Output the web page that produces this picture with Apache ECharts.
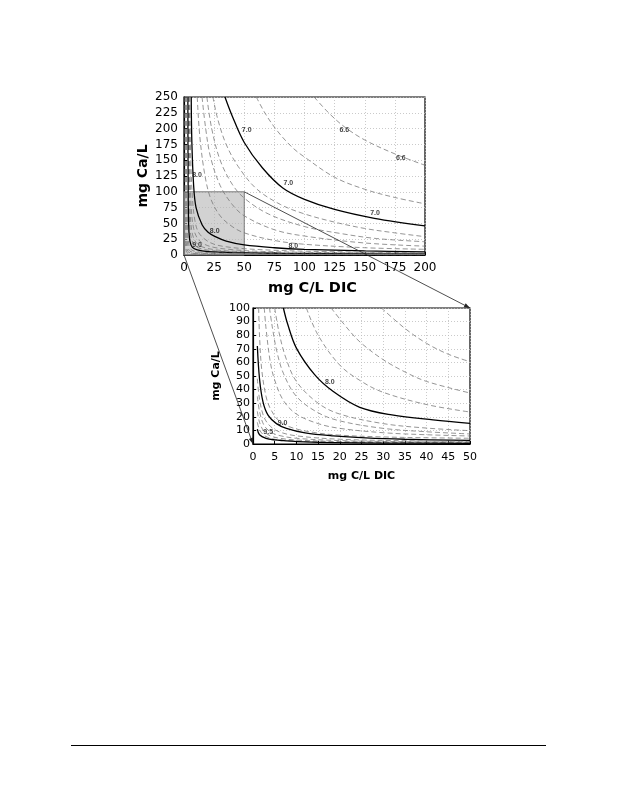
<!DOCTYPE html>
<html>
<head>
<meta charset="utf-8">
<script src="https://cdn.jsdelivr.net/npm/echarts@6/dist/echarts.min.js"></script>
<style>
html,body{margin:0;padding:0;background:#fff;}
#chart{width:618px;height:800px;}
#rule{position:absolute;left:71px;top:745px;width:475px;height:0;border-top:1.3px solid #000;}
</style>
</head>
<body>
<div id="chart"></div>
<div id="rule"></div>
<script>
// ---------- Data ----------
// Upper panel (DIC 0-200 mg C/L, Ca 0-250 mg/L): pH iso-lines as [DIC, Ca]
const top66 = [[108,250],[120,225],[133,203],[150,182],[175,160],[200,142]];
const top68 = [[60,250],[68,222],[78,195],[90,170],[100,155],[125,123],[150,104],[175,91],[200,81]];
const top70 = [[34,250],[40,220],[50,178],[65,138],[82,106],[100,88],[125,72],[158,58],[200,46]];
const top72 = [[24,250],[28,215],[35,175],[45,140],[60,105],[80,80],[100,65],[125,52],[150,42],[175,35],[200,29]];
const top74 = [[19,250],[23,200],[30,150],[40,112],[50,90],[70,65],[100,45],[130,34],[160,26],[200,21]];
const top76 = [[15,250],[18,200],[22,155],[30,110],[40,80],[50,62],[75,40],[100,30],[150,19],[200,14]];
const top78 = [[11,250],[13,190],[17,130],[22,90],[30,62],[40,45],[50,35],[75,23],[100,17],[150,11.5],[200,9]];
const top80 = [[6,250],[6.5,180],[8,110],[10,75],[15,48],[20,36],[26,29],[35,22],[50,16],[75,11.5],[100,9],[150,6.5],[200,5]];
const top82 = [[5,250],[5.5,160],[7,90],[9,55],[12,36],[18,24],[25,17],[35,13],[50,10],[75,7.5],[100,6],[150,4.5],[200,3.5]];
const top84 = [[4.4,250],[4.8,150],[6,75],[8,42],[11,27],[16,18],[25,12],[40,8.5],[60,6],[100,4.3],[150,3.3],[200,2.7]];
const top86 = [[4,250],[4.3,140],[5.2,65],[7,33],[10,20],[15,13],[25,8.5],[40,6],[70,4.2],[100,3.3],[200,2.1]];
const top88 = [[3.6,250],[3.9,130],[4.6,55],[6,27],[9,15],[15,9.5],[25,6.5],[50,4.2],[100,2.7],[200,1.7]];
const top90 = [[3.2,250],[3.4,120],[3.9,45],[5,21],[7,12],[11,8],[20,5.5],[40,3.8],[80,2.4],[140,1.7],[200,1.3]];
const top92 = [[2.6,250],[2.8,100],[3.2,35],[4.2,15],[6,8.5],[10,5.5],[20,3.8],[50,2.3],[100,1.5],[200,1]];
const top94 = [[2,250],[2.2,90],[2.6,28],[3.5,11],[5,6],[10,3.5],[25,2.2],[60,1.4],[120,1],[200,0.7]];
const top96 = [[1.3,250],[1.5,80],[1.9,22],[2.7,8],[4,4.3],[10,2.2],[30,1.3],[100,0.7],[200,0.5]];
const top98 = [[0.7,250],[0.9,70],[1.2,18],[1.9,6],[3,3],[10,1.2],[50,0.6],[200,0.3]];
const topLabels = [[133,198,'6.6'],[180,153,'6.6'],[52,197,'7.0'],[86.6,113.4,'7.0'],[158.5,66,'7.0'],
                   [10.8,126,'8.0'],[25.5,38.5,'8.0'],[90.7,14.7,'8.0'],[10.8,15.8,'9.0']];

// Lower panel (DIC 0-50, Ca 0-100): pH iso-lines as [DIC, Ca]
const low74 = [[29.6,100],[35,85],[40,74],[45,66],[50,60.5]];
const low76 = [[18,100],[22.4,82.6],[25,74],[30,62],[35,53],[40,46],[50,37.5]];
const low78 = [[12.3,100],[15,80],[20,58],[25,46],[30,38],[40,29],[50,23.5]];
const low80 = [[7,100],[8,88],[10,70.5],[14.2,51],[18.5,38.6],[24.6,27],[32,21.4],[41.5,17.7],[50,15.2]];
const low82 = [[5,100],[6,82],[7.5,64],[10,46],[15,30],[20,22],[30,15],[40,11.7],[50,9.8]];
const low84 = [[3.8,100],[4.5,85],[5.5,68],[7,52],[10,35],[15,23],[20,17],[30,11.5],[40,9],[50,7.4]];
const low86 = [[2.6,100],[3,85],[4,60],[5,47],[7,32],[10,22],[15,15],[20,11.5],[30,8.3],[40,6.8],[50,5.9]];
const low88 = [[1.3,100],[1.5,80],[2,55],[3,35],[4,26],[6,17],[9,12],[14,8.5],[20,6.5],[30,5.2],[40,4.6],[50,4.2]];
const low90 = [[1,72],[1.5,48],[2.3,31],[3.5,21],[5.4,15],[7.7,11.5],[12,8.2],[18.5,6],[26,4.5],[35,3.5],[50,2.6]];
const low91 = [[1,48],[1.5,33],[2.5,20],[4,13],[6,9],[10,6],[20,3.5],[35,2.4],[50,1.9]];
const low92 = [[1,35],[1.5,24],[2.5,14],[4,9],[6,6.3],[10,4.2],[20,2.5],[35,1.7],[50,1.4]];
const low93 = [[1,24],[1.5,16],[2.5,9.5],[4,6],[6,4.3],[10,2.9],[20,1.8],[50,1.1]];
const low94 = [[1,16],[1.5,10.5],[2.5,6.5],[4,4.2],[6,3],[10,2],[20,1.2],[50,0.8]];
const low95 = [[1,11],[1.5,6.8],[3,4.2],[5,3],[7,2.5],[12,1.6],[18.5,1],[30,0.7],[50,0.5]];
const lowLabels = [[17.7,45.5,'8.0'],[6.8,15.2,'9.0'],[3.5,8.6,'9.5']];

// zoomed window shown as grey box on upper panel
const zoomBox = [[0,0],[50,100]];

// ---------- Chart ----------
const FONT = 'Liberation Sans, Arial, sans-serif';
const TICKFONT = 'DejaVu Sans, sans-serif';
const chart = echarts.init(document.getElementById('chart'), null, {renderer:'canvas'});

function curve(data, solid, gi){
  return {
    type:'line', data:data, xAxisIndex:gi, yAxisIndex:gi,
    smooth:0.35, showSymbol:false, symbol:'none', silent:true, clip:true, z:3,
    lineStyle: solid ? {color:'#000', width:1.3, type:'solid'}
                     : {color:'#7a7a7a', width:0.8, type:[5,3]}
  };
}
function labels(data, gi){
  return {
    type:'scatter', data:data, xAxisIndex:gi, yAxisIndex:gi, symbolSize:1, z:5, silent:true,
    itemStyle:{color:'rgba(0,0,0,0)'},
    label:{show:true, position:'inside', formatter:p=>p.data[2], fontSize:7, fontWeight:'bold',
           color:'#111', fontFamily:FONT}
  };
}

const topSet = [[top66,0],[top68,0],[top70,1],[top72,0],[top74,0],[top76,0],[top78,0],[top80,1],
                [top82,0],[top84,0],[top86,0],[top88,0],[top90,1],[top92,0],[top94,0],[top96,0],[top98,0]];
const lowSet = [[low74,0],[low76,0],[low78,0],[low80,1],[low82,0],[low84,0],[low86,0],[low88,0],
                [low90,1],[low91,0],[low92,0],[low93,0],[low94,0],[low95,1]];

const series = [];
series.push({
  type:'line', data:[], xAxisIndex:0, yAxisIndex:0, z:1, silent:true,
  markArea:{silent:true, itemStyle:{color:'rgba(180,180,180,0.6)', borderColor:'#7a7a7a', borderWidth:1},
            data:[[{coord:zoomBox[0]},{coord:zoomBox[1]}]]}
});
topSet.forEach(c=>series.push(curve(c[0], c[1], 0)));
lowSet.forEach(c=>series.push(curve(c[0], c[1], 1)));
series.push(labels(topLabels,0));
series.push(labels(lowLabels,1));

function xAx(gi, max, interval, gap){
  return {type:'value', gridIndex:gi, min:0, max:max, interval:interval,
    name:'mg C/L DIC', nameLocation:'middle', nameGap:gap,
    nameTextStyle:{fontFamily:TICKFONT, fontWeight:'bold', fontSize:gi?11:14.5, color:'#000',
                   padding: gi?[0,0,0,0]:[0,0,0,16]},
    axisLine:{lineStyle:{color:'#000', width:1.2}},
    axisTick:{inside:true, length:3, lineStyle:{color:'#000'}},
    axisLabel:{fontFamily:TICKFONT, fontSize:gi?11:12, color:'#000', margin:gi?8:7},
    splitLine:{show:true, lineStyle:{color:'#bdbdbd', type:[1,2], width:0.8}}};
}
function yAx(gi, max, interval, gap){
  return {type:'value', gridIndex:gi, min:0, max:max, interval:interval,
    name:'mg Ca/L', nameLocation:'middle', nameGap:gap, nameRotate:90,
    nameTextStyle:{fontFamily:TICKFONT, fontWeight:'bold', fontSize:gi?11:14, color:'#000'},
    axisLine:{lineStyle:{color:'#000', width:1.2}},
    axisTick:{inside:true, length:3, lineStyle:{color:'#000'}},
    axisLabel:{fontFamily:TICKFONT, fontSize:gi?11:12, color:'#000', margin:gi?3:6},
    splitLine:{show:true, lineStyle:{color:'#bdbdbd', type:[1,2], width:0.8}}};
}

chart.setOption({
  animation:false,
  backgroundColor:'#fff',
  grid:[
    {left:184, top:97, width:241, height:158, show:true, borderColor:'#000', borderWidth:1.2, backgroundColor:'transparent'},
    {left:253, top:308, width:217, height:136, show:true, borderColor:'#000', borderWidth:1.2, backgroundColor:'transparent'}
  ],
  xAxis:[xAx(0,200,25,26), xAx(1,50,5,27)],
  yAxis:[yAx(0,250,25,34), yAx(1,100,10,31)],
  series:series
});

// connector lines from the zoom box to the lower panel
function arrowGraphic(a, b){
  const dx=b[0]-a[0], dy=b[1]-a[1], L=Math.hypot(dx,dy), ux=dx/L, uy=dy/L;
  const s=6, w=2.2;
  const bx=b[0]-ux*s, by=b[1]-uy*s;
  return [
    {type:'line', shape:{x1:a[0],y1:a[1],x2:b[0],y2:b[1]}, style:{stroke:'#222', lineWidth:0.8}, z:10},
    {type:'polygon', shape:{points:[[b[0],b[1]],[bx-uy*w,by+ux*w],[bx+uy*w,by-ux*w]]}, style:{fill:'#222'}, z:10}
  ];
}
const p1 = chart.convertToPixel({xAxisIndex:0,yAxisIndex:0}, zoomBox[0]);
const q1 = chart.convertToPixel({xAxisIndex:1,yAxisIndex:1}, zoomBox[0]);
const p2 = chart.convertToPixel({xAxisIndex:0,yAxisIndex:0}, zoomBox[1]);
const q2 = chart.convertToPixel({xAxisIndex:1,yAxisIndex:1}, zoomBox[1]);
chart.setOption({graphic:[].concat(arrowGraphic(p1,q1), arrowGraphic(p2,q2))});
</script>
</body>
</html>
